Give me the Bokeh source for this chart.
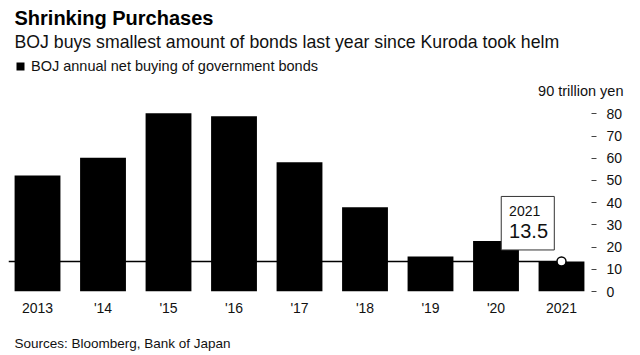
from bokeh.plotting import figure
from bokeh.layouts import column
from bokeh.models import Range1d, FixedTicker, Label, Title, Legend, LegendItem
from bokeh.embed import file_html
from bokeh.resources import INLINE

# ---- data ----
years = ["2013", "'14", "'15", "'16", "'17", "'18", "'19", "'20", "2021"]
purchases = [52.2, 60.2, 80.3, 78.9, 58.2, 37.9, 15.8, 22.7, 13.5]
y_ticks = [0, 10, 20, 30, 40, 50, 60, 70, 80]
y_top_label = "90 trillion yen"
latest_year = "2021"
latest_value = 13.5

title_text = "Shrinking Purchases"
subtitle_text = "BOJ buys smallest amount of bonds last year since Kuroda took helm"
legend_text = "BOJ annual net buying of government bonds"
source_text = "Sources: Bloomberg, Bank of Japan"

FONT = "Liberation Sans"
INK = "#111111"

idx = list(range(len(years)))

# ---------------- header (title, subtitle, legend, unit) ----------------
HEAD_H = 100
head = figure(width=640, height=HEAD_H, x_range=Range1d(0, 640),
              y_range=Range1d(HEAD_H, 0), output_backend="svg",
              toolbar_location=None, title=None,
              min_border=0, min_border_left=0, min_border_right=0,
              min_border_top=0, min_border_bottom=0)
head.axis.visible = False
head.grid.grid_line_color = None
head.outline_line_color = None
head.background_fill_color = "white"
head.border_fill_color = "white"

head.add_layout(Label(x=14, y=17.5, text=title_text, text_font=FONT,
                      text_font_size="20px", text_font_style="bold",
                      text_color="black", text_baseline="alphabetic"))
head.add_layout(Label(x=14, y=41, text=subtitle_text, text_font=FONT,
                      text_font_size="17.7px", text_color=INK,
                      text_baseline="alphabetic"))
head.add_layout(Label(x=623, y=90.5, text=y_top_label, text_font=FONT,
                      text_font_size="14.5px", text_color=INK,
                      text_align="right", text_baseline="alphabetic"))

# legend swatch renderer (hidden; only its legend entry is shown)
leg_r = head.vbar(x=idx, top=purchases, width=0.7, fill_color="black",
                  line_color=None, visible=False)
legend = Legend(items=[LegendItem(label=legend_text, renderers=[leg_r])],
                location=(15, HEAD_H - 74), orientation="horizontal",
                glyph_width=10, glyph_height=10, label_standoff=6,
                label_text_font=FONT, label_text_font_size="14.5px",
                label_text_color=INK, padding=0, margin=0,
                inactive_fill_alpha=0, click_policy="none",
                border_line_color=None, background_fill_color=None)
head.add_layout(legend)

# ---------------- chart ----------------
x0, x1 = -0.443, len(years) - 1 + 0.458
y_end = 86

p = figure(frame_width=583, frame_height=191,
           x_range=Range1d(x0, x1), y_range=Range1d(0, y_end),
           y_axis_location="right", output_backend="svg",
           toolbar_location=None, title=None,
           min_border_left=8, min_border_right=49,
           min_border_top=0, min_border_bottom=64)
p.outline_line_color = None
p.grid.grid_line_color = None
p.background_fill_color = "white"
p.border_fill_color = "white"

for fig in (head, p):
    try:
        fig.frame_align = False
    except Exception:
        pass

bars = p.vbar(x=idx, top=purchases, width=0.70, fill_color="black", line_color=None)

# reference line at the latest value
p.line(x=[x0, idx[-1]], y=[latest_value, latest_value], line_color="black", line_width=1.5)
p.scatter(x=[idx[-1]], y=[latest_value], size=9, fill_color="white",
          line_color="black", line_width=1.5)

# callout box
bx_l, bx_r, bx_b, bx_t = idx[-1] - 0.92, idx[-1] - 0.11, 18.7, 42.8
p.quad(left=bx_l, right=bx_r, bottom=bx_b, top=bx_t, fill_color="white",
       line_color="#333333", line_width=1)
p.add_layout(Label(x=bx_l + 0.12, y=36.4, text=latest_year, text_font=FONT,
                   text_font_size="14px", text_baseline="middle", text_color=INK))
p.add_layout(Label(x=bx_l + 0.12, y=27.1, text=f"{latest_value}", text_font=FONT,
                   text_font_size="20px", text_baseline="middle", text_color=INK))

xa = p.xaxis[0]
xa.ticker = FixedTicker(ticks=idx)
xa.major_label_overrides = {i: y for i, y in zip(idx, years)}
xa.axis_line_color = None
xa.major_tick_line_color = None
xa.minor_tick_line_color = None
xa.major_label_text_font = FONT
xa.major_label_text_font_size = "14px"
xa.major_label_text_color = INK
xa.major_label_standoff = 2

ya = p.yaxis[0]
ya.ticker = FixedTicker(ticks=y_ticks)
ya.axis_line_color = None
ya.minor_tick_line_color = None
ya.major_tick_in = 0
ya.major_tick_out = 5
ya.major_tick_line_color = "#444444"
ya.major_label_standoff = 10
ya.major_label_text_font = FONT
ya.major_label_text_font_size = "14px"
ya.major_label_text_color = INK

p.add_layout(Title(text=source_text, text_font=FONT, text_font_size="13.5px",
                   text_font_style="normal", align="left", offset=6,
                   text_color=INK, standoff=31), "below")

layout = column(head, p, spacing=0)
open("out.html", "w").write(file_html(layout, INLINE))
